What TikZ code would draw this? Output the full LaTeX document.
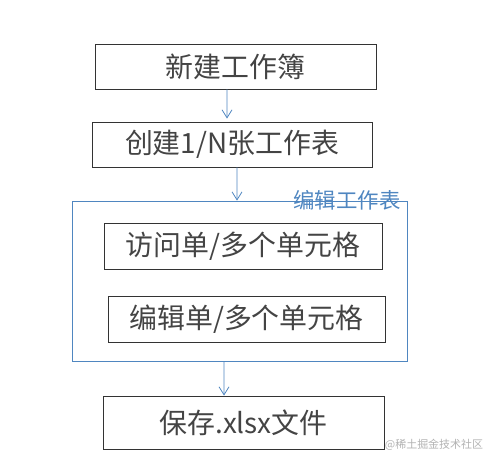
\documentclass[tikz,border=0pt]{standalone}
\usepackage{fontspec}
\usepackage{xcolor}
\usetikzlibrary{arrows.meta}
\newfontfamily\cjk{Noto Sans CJK SC}

\definecolor{linegray}{HTML}{333333}
\definecolor{textgray}{HTML}{444444}
\definecolor{frameblue}{HTML}{4F86C0}

\tikzset{
  stepbox/.style = {draw = linegray, line width = 0.9pt, inner sep = 0pt,
    text = textgray, font = \cjk\fontsize{28}{28}\selectfont},
  arr/.style = {-{Straight Barb[length = 8bp, width = 10bp]}, draw = frameblue, line width = 0.8pt}
}

\begin{document}
\begin{tikzpicture}[x = 1bp, y = -1bp]
  \useasboundingbox (0, 0) rectangle (494, 463);

  \node[stepbox, minimum width = 281bp, minimum height = 45bp] (wb) at (235.5, 66.5) {新建工作簿};
  \node[stepbox, minimum width = 280bp, minimum height = 45bp] (ws) at (232, 144.5) {创建1/N张工作表};
  \node[draw = frameblue, line width = 0.8pt, minimum width = 335bp, minimum height = 160bp] (edit) at (239.5, 281) {};
  \node[text = frameblue, font = \cjk\fontsize{21.5}{21.5}\selectfont] (editlbl) at (347, 200) {编辑工作表};
  \node[stepbox, minimum width = 278bp, minimum height = 46bp] (visit) at (243, 246) {访问单/多个单元格};
  \node[stepbox, minimum width = 277bp, minimum height = 46bp] (modify) at (246.5, 319) {编辑单/多个单元格};
  \node[stepbox, minimum width = 281bp, minimum height = 53bp] (save) at (243.5, 422.5) {保存.xlsx文件};
  \node[text = gray!60, font = \cjk\fontsize{11}{11}\selectfont] (mark) at (434, 445) {@稀土掘金技术社区};

  \draw[arr] ([xshift = -8.5bp]wb.south) -- ([xshift = -5bp, yshift = 3bp]ws.north);
  \draw[arr] ([xshift = 5bp]ws.south) -- ([xshift = -2.5bp]edit.north);
  \draw[arr] ([xshift = -15.5bp]edit.south) -- ([xshift = -19.5bp]save.north);
\end{tikzpicture}
\end{document}
